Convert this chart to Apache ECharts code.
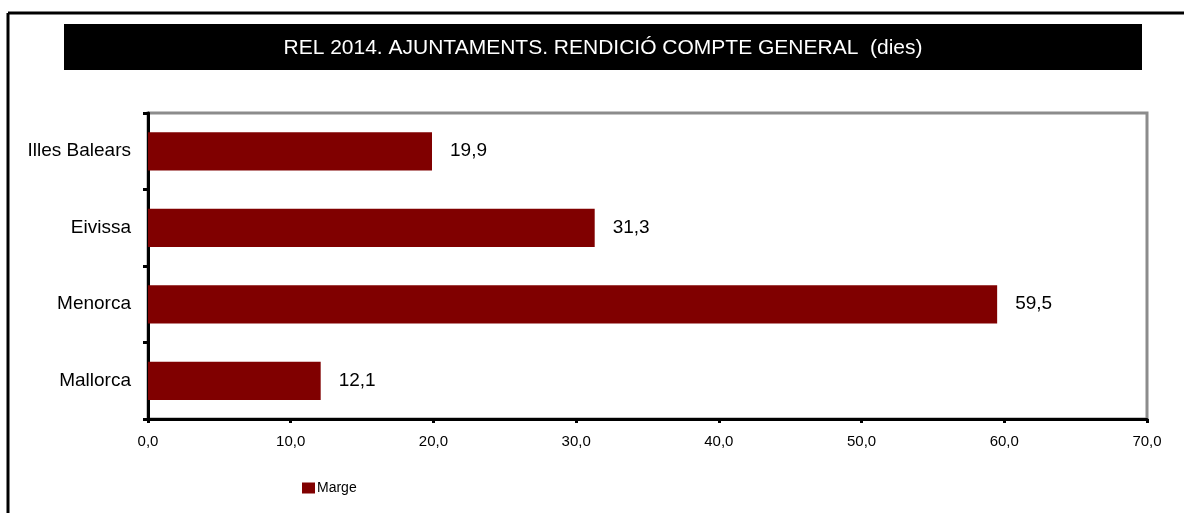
<!DOCTYPE html>
<html>
<head>
<meta charset="utf-8">
<script src="https://cdn.jsdelivr.net/npm/echarts@6/dist/echarts.min.js"></script>
<style>
  html, body { margin: 0; padding: 0; background: #fff; }
  #chartBox { width: 1184px; height: 513px; }
</style>
</head>
<body>
<div id="chartBox"></div>
<script>
// data (top to bottom)
const titleText = 'REL 2014. AJUNTAMENTS. RENDICIÓ COMPTE GENERAL  (dies)'
const categories = ['Illes Balears', 'Eivissa', 'Menorca', 'Mallorca']
const margeValues = [19.9, 31.3, 59.5, 12.1]
const seriesName = 'Marge'

const fmt = (v) => Number(v).toFixed(1).replace('.', ',')

const chartBox = echarts.init(document.getElementById('chartBox'))
const option = {
  backgroundColor: '#fff',
  animation: false,
  textStyle: { fontFamily: 'Liberation Sans, Arial, sans-serif' },
  graphic: [
    // outer frame
    { type: 'line', shape: { x1: 8, y1: 13, x2: 1184, y2: 13 }, style: { stroke: '#000', lineWidth: 3 } },
    { type: 'line', shape: { x1: 8, y1: 13, x2: 8, y2: 513 }, style: { stroke: '#000', lineWidth: 3 } },
    // title box
    { type: 'rect', shape: { x: 64, y: 24, width: 1078, height: 46 }, style: { fill: '#000' }, z: 1 },
    {
      type: 'text', x: 603, y: 48, z: 2,
      style: {
        text: titleText, fill: '#fff', fontSize: 21,
        fontFamily: 'Liberation Sans, Arial, sans-serif',
        align: 'center', verticalAlign: 'middle'
      }
    }
  ],
  grid: {
    left: 148, right: 37, top: 113, bottom: 94,
    show: true, borderColor: '#8c8c8c', borderWidth: 3, backgroundColor: 'transparent'
  },
  legend: {
    left: 297, top: 476,
    itemWidth: 13, itemHeight: 11, icon: 'rect',
    textStyle: { fontSize: 14, color: '#000', padding: [0, 0, 0, -3] },
    data: [seriesName]
  },
  xAxis: {
    type: 'value',
    min: 0, max: 70, interval: 10,
    axisLine: { show: true, lineStyle: { color: '#000', width: 3 } },
    axisTick: { show: true, length: 4, lineStyle: { color: '#000', width: 3 } },
    splitLine: { show: false },
    axisLabel: { color: '#000', fontSize: 15, margin: 15, formatter: fmt }
  },
  yAxis: {
    type: 'category',
    inverse: true,
    data: categories,
    axisLine: { show: true, lineStyle: { color: '#000', width: 3 } },
    axisTick: { show: true, length: 5, lineStyle: { color: '#000', width: 3 } },
    axisLabel: { color: '#000', fontSize: 19, margin: 17 }
  },
  series: [
    {
      name: seriesName,
      type: 'bar',
      data: margeValues,
      barWidth: '50%',
      itemStyle: { color: '#800000' },
      label: {
        show: true, position: 'right', distance: 18,
        color: '#000', fontSize: 19, formatter: (p) => fmt(p.value)
      }
    }
  ]
}
chartBox.setOption(option)
</script>
</body>
</html>
